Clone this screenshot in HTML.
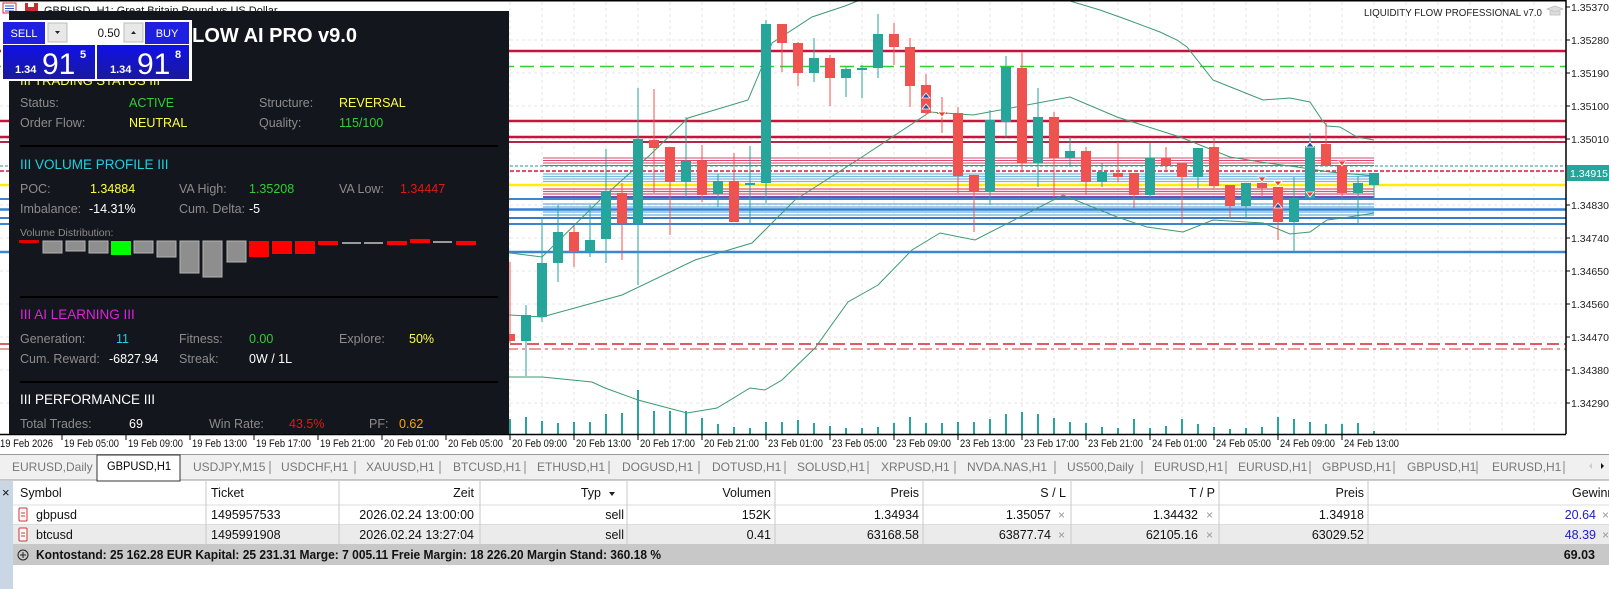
<!DOCTYPE html>
<html><head><meta charset="utf-8"><style>
html,body{margin:0;padding:0;background:#fff;}
svg{display:block;}
.t{font-family:"Liberation Sans",sans-serif;}
.n{font-family:"Liberation Sans Narrow","Liberation Sans",sans-serif;}
</style></head><body>
<svg width="1609" height="589" viewBox="0 0 1609 589" xmlns="http://www.w3.org/2000/svg">
<rect width="1609" height="589" fill="#fff"/>
<g stroke="#e6e6e6" stroke-width="1" stroke-dasharray="3,3">
<path d="M510 2V434M542 2V434M574 2V434M606 2V434M638 2V434M670 2V434M702 2V434M734 2V434M766 2V434M798 2V434M830 2V434M862 2V434M894 2V434M926 2V434M958 2V434M990 2V434M1022 2V434M1054 2V434M1086 2V434M1118 2V434M1150 2V434M1182 2V434M1214 2V434M1246 2V434M1278 2V434M1310 2V434M1342 2V434M1374 2V434M1406 2V434M1438 2V434M1470 2V434M1502 2V434M1534 2V434"/>
<path d="M0 40H1566M0 73H1566M0 106H1566M0 139H1566M0 172H1566M0 205H1566M0 238H1566M0 271H1566M0 304H1566M0 337H1566M0 370H1566M0 403H1566"/>
</g>
<g fill="none">
<path d="M0 51H1566" stroke="#c8143c" stroke-width="2.5"/>
<path d="M0 66.5H1566" stroke="#32cd32" stroke-width="1.5" stroke-dasharray="14,6"/>
<path d="M0 121H1566" stroke="#c8143c" stroke-width="2.5"/>
<path d="M0 137H1566" stroke="#c8143c" stroke-width="2.5"/>
<path d="M0 142H1566" stroke="#b02848" stroke-width="2"/>
<g stroke="#d84a6a" stroke-width="1"><path d="M543 158H1374M543 160.5H1374M543 163H1374M543 165.5H1374"/></g>
<path d="M0 166H1566" stroke="#2a9a8a" stroke-width="1" stroke-dasharray="3,2"/>
<path d="M0 171H1566" stroke="#d02040" stroke-width="1.5" stroke-dasharray="4,2"/>
<g stroke="#7ab8e0" stroke-width="1.2"><path d="M543 174H1374M543 176.5H1374M543 179H1374M543 181.5H1374"/></g>
<path d="M0 185H1566" stroke="#ffee00" stroke-width="2.5"/>
<g stroke="#e05070" stroke-width="1.2"><path d="M543 189H1374M543 191.5H1374M543 194H1374"/></g>
<path d="M543 197H1374" stroke="#7050b0" stroke-width="2"/>
<path d="M0 199H1566" stroke="#3a86d0" stroke-width="2"/>
<g stroke="#6aaee0" stroke-width="1.2"><path d="M543 204H1374M543 207H1374M543 212H1374M543 215H1374"/></g>
<path d="M0 209.5H1566" stroke="#2f80d8" stroke-width="2.5"/>
<path d="M0 218H1566" stroke="#3a7ac8" stroke-width="2"/>
<path d="M0 224H1566" stroke="#3a86d0" stroke-width="2"/>
<path d="M0 252H1566" stroke="#3a86d0" stroke-width="2.5"/>
<path d="M0 344H1566" stroke="#d02830" stroke-width="1.5" stroke-dasharray="12,5"/>
<path d="M0 349H1566" stroke="#d03838" stroke-width="1" stroke-dasharray="12,4,3,4"/>
</g>
<g fill="none" stroke="#3c9a70" stroke-width="1">
<polyline points="497,252 510,253 542,257 600,200 650,155 688,118 748,100 772,43 812,17 845,6 865,-2"/>
<polyline points="1060,-2 1100,10 1128,20 1160,32 1177,40 1187,47 1213,80 1233,88 1263,100 1290,98 1310,102 1322,120 1327,126 1340,127 1357,137 1374,140"/>
<polyline points="497,315 510,315 542,317 622,295 695,260 752,243 795,200 862,157 930,112 973,115 1070,97 1117,117 1180,137 1230,157 1267,163 1297,167 1330,172 1374,176"/>
<polyline points="497,377 510,377 542,377 592,382 605,388 638,400 687,413 717,408 750,388 765,390 782,380 815,348 848,302 878,285 912,250 940,233 975,240 1063,195 1117,217 1147,227 1183,232 1213,220 1263,223 1290,234 1310,232 1327,220 1343,218 1374,213"/>
</g>
<g stroke-width="1">
<g stroke="#ef5350"><path d="M510 262V343M574 225V267M622 183V260M654 89V193M670 147V235M702 145V202M734 153V222M782 24V72M798 42V86M830 55V106M894 23V65M910 38V107M926 74V115M942 97V133M958 107V193M974 175V232M1022 52V172M1054 112V197M1086 147V195M1118 142V182M1134 173V208M1166 147V170M1182 163V223M1214 137V188M1230 185V218M1262 177V197M1278 187V240M1326 123V166M1342 160V198"/></g>
<g stroke="#26a69a"><path d="M526 305V376M542 217V322M558 205V282M590 205V257M606 149V263M638 88V285M686 117V197M718 174V207M750 146V223M766 20V203M814 38V82M846 67V97M862 65V98M878 14V78M990 110V205M1006 56V137M1038 88V187M1070 137V167M1102 163V187M1150 143V197M1198 148V188M1246 183V217M1294 177V252M1310 133V198M1358 176V223M1374 173V198"/></g>
</g>
<g fill="#ef5350">
<rect x="505" y="334" width="10" height="7"/><rect x="569" y="232" width="10" height="20"/><rect x="617" y="193" width="10" height="30"/><rect x="649" y="140" width="10" height="8"/><rect x="665" y="147" width="10" height="35"/><rect x="697" y="161" width="10" height="34"/><rect x="729" y="181" width="10" height="41"/><rect x="777" y="24" width="10" height="19"/><rect x="793" y="43" width="10" height="30"/><rect x="825" y="58" width="10" height="20"/><rect x="889" y="34" width="10" height="13"/><rect x="905" y="47" width="10" height="39"/><rect x="921" y="85" width="10" height="28"/><rect x="937" y="112" width="10" height="2"/><rect x="953" y="113" width="10" height="63"/><rect x="969" y="175" width="10" height="17"/><rect x="1017" y="68" width="10" height="95"/><rect x="1049" y="117" width="10" height="41"/><rect x="1081" y="151" width="10" height="31"/><rect x="1113" y="173" width="10" height="4"/><rect x="1129" y="173" width="10" height="22"/><rect x="1161" y="158" width="10" height="7"/><rect x="1177" y="163" width="10" height="14"/><rect x="1209" y="147" width="10" height="39"/><rect x="1225" y="185" width="10" height="21"/><rect x="1257" y="183" width="10" height="5"/><rect x="1273" y="187" width="10" height="35"/><rect x="1321" y="144" width="10" height="22"/><rect x="1337" y="166" width="10" height="27"/>
</g>
<g fill="#26a69a">
<rect x="521" y="315" width="10" height="26"/><rect x="537" y="263" width="10" height="54"/><rect x="553" y="232" width="10" height="31"/><rect x="585" y="240" width="10" height="12"/><rect x="601" y="192" width="10" height="47"/><rect x="633" y="139" width="10" height="84"/><rect x="681" y="161" width="10" height="21"/><rect x="713" y="181" width="10" height="13"/><rect x="745" y="183" width="10" height="2"/><rect x="761" y="24" width="10" height="159"/><rect x="809" y="58" width="10" height="15"/><rect x="841" y="69" width="10" height="9"/><rect x="857" y="68" width="10" height="2"/><rect x="873" y="34" width="10" height="34"/><rect x="985" y="120" width="10" height="72"/><rect x="1001" y="67" width="10" height="55"/><rect x="1033" y="117" width="10" height="46"/><rect x="1065" y="151" width="10" height="7"/><rect x="1097" y="172" width="10" height="10"/><rect x="1145" y="158" width="10" height="37"/><rect x="1193" y="148" width="10" height="29"/><rect x="1241" y="183" width="10" height="23"/><rect x="1289" y="198" width="10" height="24"/><rect x="1305" y="146" width="10" height="52"/><rect x="1353" y="183" width="10" height="10"/><rect x="1369" y="173" width="10" height="12"/>
</g>
<g fill="#1f4f9f" stroke="#fff" stroke-width="0.8">
<path d="M926 93l4 5h-8z"/><path d="M926 104l4 5h-8z"/><path d="M1278 203l4 5h-8z"/><path d="M1310 142l4 5h-8z"/>
</g>
<g fill="#e8402a" stroke="#fff" stroke-width="0.8">
<path d="M942 117l4 -5h-8z"/><path d="M1262 182l4 -5h-8z"/><path d="M1278 186l4 -5h-8z"/><path d="M1310 197l4 -5h-8z"/><path d="M1342 166l4 -5h-8z"/>
</g>
<path stroke="#26a69a" stroke-width="2" d="M510 434V419M526 434V417M542 434V421M558 434V423M574 434V422M590 434V422M606 434V414M622 434V413M638 434V390M654 434V411M670 434V411M686 434V411M702 434V418M718 434V424M734 434V427M750 434V428M766 434V422M782 434V422M798 434V420M814 434V423M830 434V426M846 434V428M862 434V428M878 434V427M894 434V423M910 434V417M926 434V423M942 434V423M958 434V422M974 434V422M990 434V419M1006 434V414M1022 434V412M1038 434V414M1054 434V418M1070 434V422M1086 434V423M1102 434V427M1118 434V428M1134 434V419M1150 434V428M1166 434V426M1182 434V419M1198 434V424M1214 434V427M1230 434V429M1246 434V428M1262 434V427M1278 434V417M1294 434V419M1310 434V422M1326 434V424M1342 434V424M1358 434V423M1374 434V431"/>
<path d="M0 0.8H1566M1566 0V434M0 434.5H1566" stroke="#000" stroke-width="1.5" fill="none"/>
<g class="t" font-size="10.5" fill="#222">
<text x="1571" y="11">1.35370</text><text x="1571" y="44">1.35280</text><text x="1571" y="77">1.35190</text><text x="1571" y="110">1.35100</text><text x="1571" y="143">1.35010</text><text x="1571" y="209">1.34830</text><text x="1571" y="242">1.34740</text><text x="1571" y="275">1.34650</text><text x="1571" y="308">1.34560</text><text x="1571" y="341">1.34470</text><text x="1571" y="374">1.34380</text><text x="1571" y="407">1.34290</text>
</g>
<path stroke="#000" d="M1566 7H1570M1566 40H1570M1566 73H1570M1566 106H1570M1566 139H1570M1566 205H1570M1566 238H1570M1566 271H1570M1566 304H1570M1566 337H1570M1566 370H1570M1566 403H1570"/>
<rect x="1567" y="165" width="42" height="16" fill="#26a69a"/>
<text x="1570" y="177" class="t" font-size="10.5" fill="#fff">1.34915</text>
<text x="1364" y="16" class="t" font-size="10.5" fill="#222" textLength="178" lengthAdjust="spacingAndGlyphs">LIQUIDITY FLOW PROFESSIONAL v7.0</text>
<path d="M1547 9l8-3 8 3-8 3z M1550 11v4h10v-4" fill="#ddd" stroke="#bbb" stroke-width="0.8"/>
<path stroke="#000" d="M-2 434V440M62 434V440M126 434V440M190 434V440M254 434V440M318 434V440M382 434V440M446 434V440M510 434V440M574 434V440M638 434V440M702 434V440M766 434V440M830 434V440M894 434V440M958 434V440M1022 434V440M1086 434V440M1150 434V440M1214 434V440M1278 434V440M1342 434V440"/>
<g class="n" font-size="11" fill="#111">
<text x="0" y="447" textLength="53" lengthAdjust="spacingAndGlyphs">19 Feb 2026</text>
<text x="64" y="447" textLength="55" lengthAdjust="spacingAndGlyphs">19 Feb 05:00</text>
<text x="128" y="447" textLength="55" lengthAdjust="spacingAndGlyphs">19 Feb 09:00</text>
<text x="192" y="447" textLength="55" lengthAdjust="spacingAndGlyphs">19 Feb 13:00</text>
<text x="256" y="447" textLength="55" lengthAdjust="spacingAndGlyphs">19 Feb 17:00</text>
<text x="320" y="447" textLength="55" lengthAdjust="spacingAndGlyphs">19 Feb 21:00</text>
<text x="384" y="447" textLength="55" lengthAdjust="spacingAndGlyphs">20 Feb 01:00</text>
<text x="448" y="447" textLength="55" lengthAdjust="spacingAndGlyphs">20 Feb 05:00</text>
<text x="512" y="447" textLength="55" lengthAdjust="spacingAndGlyphs">20 Feb 09:00</text>
<text x="576" y="447" textLength="55" lengthAdjust="spacingAndGlyphs">20 Feb 13:00</text>
<text x="640" y="447" textLength="55" lengthAdjust="spacingAndGlyphs">20 Feb 17:00</text>
<text x="704" y="447" textLength="55" lengthAdjust="spacingAndGlyphs">20 Feb 21:00</text>
<text x="768" y="447" textLength="55" lengthAdjust="spacingAndGlyphs">23 Feb 01:00</text>
<text x="832" y="447" textLength="55" lengthAdjust="spacingAndGlyphs">23 Feb 05:00</text>
<text x="896" y="447" textLength="55" lengthAdjust="spacingAndGlyphs">23 Feb 09:00</text>
<text x="960" y="447" textLength="55" lengthAdjust="spacingAndGlyphs">23 Feb 13:00</text>
<text x="1024" y="447" textLength="55" lengthAdjust="spacingAndGlyphs">23 Feb 17:00</text>
<text x="1088" y="447" textLength="55" lengthAdjust="spacingAndGlyphs">23 Feb 21:00</text>
<text x="1152" y="447" textLength="55" lengthAdjust="spacingAndGlyphs">24 Feb 01:00</text>
<text x="1216" y="447" textLength="55" lengthAdjust="spacingAndGlyphs">24 Feb 05:00</text>
<text x="1280" y="447" textLength="55" lengthAdjust="spacingAndGlyphs">24 Feb 09:00</text>
<text x="1344" y="447" textLength="55" lengthAdjust="spacingAndGlyphs">24 Feb 13:00</text>
</g>
<rect x="3" y="3" width="13" height="10" fill="#fff" stroke="#d03030"/>
<path d="M5 6H14M5 8.5H14M5 11H14" stroke="#3050c0"/>
<rect x="25" y="3" width="13" height="11" fill="#c03030"/><rect x="28" y="3" width="6" height="4" fill="#fff"/>
<text x="44" y="14" class="t" font-size="11" fill="#111">GBPUSD, H1: Great Britain Pound vs US Dollar</text>
<rect x="9" y="11" width="500" height="423" fill="#14161e"/>
<text x="357" y="42" text-anchor="end" class="t" font-size="20" font-weight="bold" fill="#fff">LIQUIDITY FLOW AI PRO v9.0</text>
<text x="20" y="85" class="t" font-size="13" fill="#ffff40">III TRADING STATUS III</text>
<g class="t" font-size="12.5">
<text x="20" y="107" fill="#8c8c8c">Status:</text><text x="129" y="107" fill="#32cd32">ACTIVE</text>
<text x="259" y="107" fill="#8c8c8c">Structure:</text><text x="339" y="107" fill="#ffff40">REVERSAL</text>
<text x="20" y="127" fill="#8c8c8c">Order Flow:</text><text x="129" y="127" fill="#ffff40">NEUTRAL</text>
<text x="259" y="127" fill="#8c8c8c">Quality:</text><text x="339" y="127" fill="#32cd32">115/100</text>
<text x="20" y="169" fill="#20d0e0" font-size="13.5">III VOLUME PROFILE III</text>
<text x="20" y="193" fill="#8c8c8c">POC:</text><text x="90" y="193" fill="#ffff40">1.34884</text>
<text x="179" y="193" fill="#8c8c8c">VA High:</text><text x="249" y="193" fill="#32cd32">1.35208</text>
<text x="339" y="193" fill="#8c8c8c">VA Low:</text><text x="400" y="193" fill="#e01818">1.34447</text>
<text x="20" y="213" fill="#8c8c8c">Imbalance:</text><text x="89" y="213" fill="#fff">-14.31%</text>
<text x="179" y="213" fill="#8c8c8c">Cum. Delta:</text><text x="249" y="213" fill="#fff">-5</text>
<text x="20" y="236" fill="#8c8c8c" font-size="10.5">Volume Distribution:</text>
<text x="20" y="319" fill="#e020e0" font-size="13.5">III AI LEARNING III</text>
<text x="20" y="343" fill="#8c8c8c">Generation:</text><text x="116" y="343" fill="#20d0e0">11</text>
<text x="179" y="343" fill="#8c8c8c">Fitness:</text><text x="249" y="343" fill="#32cd32">0.00</text>
<text x="339" y="343" fill="#8c8c8c">Explore:</text><text x="409" y="343" fill="#ffff40">50%</text>
<text x="20" y="363" fill="#8c8c8c">Cum. Reward:</text><text x="109" y="363" fill="#fff">-6827.94</text>
<text x="179" y="363" fill="#8c8c8c">Streak:</text><text x="249" y="363" fill="#fff">0W / 1L</text>
<text x="20" y="404" fill="#fff" font-size="13.5">III PERFORMANCE III</text>
<text x="20" y="428" fill="#8c8c8c">Total Trades:</text><text x="129" y="428" fill="#fff">69</text>
<text x="209" y="428" fill="#8c8c8c">Win Rate:</text><text x="289" y="428" fill="#e01818">43.5%</text>
<text x="369" y="428" fill="#8c8c8c">PF:</text><text x="399" y="428" fill="#ffa500">0.62</text>
</g>
<path d="M20 146H498M20 297H498M20 382H498" stroke="#000" stroke-width="2"/>
<rect x="19" y="240" width="20" height="3" fill="#e00000"/>
<g fill="#8e8e8e" stroke="#b4b4b4" stroke-width="1">
<rect x="43" y="241" width="19" height="12"/><rect x="66" y="241" width="19" height="10"/><rect x="89" y="241" width="19" height="12"/>
<rect x="134" y="241" width="19" height="12"/><rect x="157" y="241" width="19" height="16"/><rect x="180" y="241" width="19" height="32"/><rect x="203" y="241" width="19" height="36"/><rect x="227" y="241" width="19" height="21"/>
</g>
<rect x="111" y="241" width="20" height="14" fill="#00ff00"/>
<g fill="#ff0000"><rect x="249" y="241" width="20" height="16"/><rect x="272" y="241" width="20" height="13"/><rect x="295" y="241" width="20" height="13"/>
<rect x="318" y="241" width="20" height="4"/><rect x="387" y="241" width="20" height="4"/><rect x="410" y="239" width="20" height="4"/><rect x="456" y="241" width="20" height="4"/></g>
<g fill="#9a9a9a"><rect x="342" y="242" width="19" height="2"/><rect x="364" y="242" width="19" height="2"/><rect x="433" y="241" width="19" height="2"/></g>
<rect x="1" y="20" width="191" height="61" fill="#fff"/>
<rect x="3" y="22" width="42" height="22" fill="#1f1fe0"/>
<text x="24" y="37" text-anchor="middle" class="t" font-size="11" fill="#fff">SELL</text>
<rect x="145" y="22" width="44" height="22" fill="#1f1fe0"/>
<text x="167" y="37" text-anchor="middle" class="t" font-size="11" fill="#fff">BUY</text>
<rect x="48" y="23" width="19" height="19" fill="#e8e8e8" stroke="#bbb"/><path d="M55 31h5l-2.5 3z" fill="#222"/>
<rect x="124" y="23" width="19" height="19" fill="#e8e8e8" stroke="#bbb"/><path d="M131 34h5l-2.5-3z" fill="#222"/>
<text x="120" y="37" text-anchor="end" class="t" font-size="11.5" fill="#111">0.50</text>
<defs><linearGradient id="bg" x1="0" y1="0" x2="0" y2="1"><stop offset="0" stop-color="#1010e8"/><stop offset="1" stop-color="#1a1a9c"/></linearGradient></defs>
<rect x="3" y="45" width="92" height="34" fill="url(#bg)"/>
<rect x="97" y="45" width="92" height="34" fill="url(#bg)"/>
<g class="t" fill="#fff">
<text x="15" y="73" font-size="11" font-weight="bold">1.34</text><text x="42" y="74" font-size="30">91</text><text x="80" y="58" font-size="11" font-weight="bold">5</text>
<text x="110" y="73" font-size="11" font-weight="bold">1.34</text><text x="137" y="74" font-size="30">91</text><text x="175" y="58" font-size="11" font-weight="bold">8</text>
</g>
<rect x="0" y="454" width="1609" height="26" fill="#f0f0f0"/>
<path d="M0 454.5H1609M0 480H1609" stroke="#9a9a9a" stroke-width="1"/>
<rect x="97" y="455" width="83" height="26" fill="#fff" stroke="#333" stroke-width="1"/>
<g class="n" font-size="12" fill="#777">
<text x="12" y="471">EURUSD,Daily</text>
<text x="107" y="470" fill="#000" textLength="64" lengthAdjust="spacingAndGlyphs">GBPUSD,H1</text>
<text x="193" y="471">USDJPY,M15</text><text x="281" y="471">USDCHF,H1</text><text x="366" y="471">XAUUSD,H1</text><text x="453" y="471">BTCUSD,H1</text><text x="537" y="471">ETHUSD,H1</text><text x="622" y="471">DOGUSD,H1</text><text x="712" y="471">DOTUSD,H1</text><text x="797" y="471">SOLUSD,H1</text><text x="881" y="471">XRPUSD,H1</text><text x="967" y="471">NVDA.NAS,H1</text><text x="1067" y="471">US500,Daily</text><text x="1154" y="471">EURUSD,H1</text><text x="1238" y="471">EURUSD,H1</text><text x="1322" y="471">GBPUSD,H1</text><text x="1407" y="471">GBPUSD,H1</text><text x="1492" y="471">EURUSD,H1</text>
</g>
<path stroke="#888" d="M270 461V474M355 461V474M440 461V474M525 461V474M609 461V474M699 461V474M785 461V474M868 461V474M955 461V474M1055 461V474M1142 461V474M1226 461V474M1310 461V474M1394 461V474M1477 461V474M1564 461V474"/>
<path d="M1592 463l-3 3 3 3z" fill="#ccc"/><path d="M1601 463l3 3-3 3z" fill="#111"/>
<rect x="0" y="481" width="13" height="108" fill="#c9d6e3"/>
<text x="2" y="497" class="t" font-size="13" fill="#111">×</text>
<rect x="13" y="524" width="1596" height="20" fill="#ebebeb"/>
<rect x="13" y="544" width="1596" height="21" fill="#c8c8c8"/>
<path d="M13 505H1609M13 524.5H1609" stroke="#dcdcdc"/>
<path stroke="#c8c8c8" d="M206 481V544M339 481V544M480 481V544M627 481V544M775 481V544M923 481V544M1071 481V544M1219 481V544M1368 481V544"/>
<g class="n" font-size="12.5" fill="#111">
<text x="20" y="497">Symbol</text><text x="211" y="497">Ticket</text>
<text x="474" y="497" text-anchor="end">Zeit</text><text x="601" y="497" text-anchor="end">Typ</text>
<text x="771" y="497" text-anchor="end">Volumen</text><text x="919" y="497" text-anchor="end">Preis</text>
<text x="1066" y="497" text-anchor="end">S / L</text><text x="1215" y="497" text-anchor="end">T / P</text>
<text x="1364" y="497" text-anchor="end">Preis</text><text x="1572" y="497">Gewinn</text>
<text x="36" y="519">gbpusd</text><text x="211" y="519">1495957533</text>
<text x="474" y="519" text-anchor="end">2026.02.24 13:00:00</text><text x="624" y="519" text-anchor="end">sell</text>
<text x="771" y="519" text-anchor="end">152K</text><text x="919" y="519" text-anchor="end">1.34934</text>
<text x="1051" y="519" text-anchor="end">1.35057</text><text x="1198" y="519" text-anchor="end">1.34432</text>
<text x="1364" y="519" text-anchor="end">1.34918</text><text x="1596" y="519" text-anchor="end" fill="#2020c0">20.64</text>
<text x="36" y="539">btcusd</text><text x="211" y="539">1495991908</text>
<text x="474" y="539" text-anchor="end">2026.02.24 13:27:04</text><text x="624" y="539" text-anchor="end">sell</text>
<text x="771" y="539" text-anchor="end">0.41</text><text x="919" y="539" text-anchor="end">63168.58</text>
<text x="1051" y="539" text-anchor="end">63877.74</text><text x="1198" y="539" text-anchor="end">62105.16</text>
<text x="1364" y="539" text-anchor="end">63029.52</text><text x="1596" y="539" text-anchor="end" fill="#2020c0">48.39</text>
<text x="36" y="559" font-weight="bold" textLength="625" lengthAdjust="spacingAndGlyphs">Kontostand: 25 162.28 EUR  Kapital: 25 231.31  Marge: 7 005.11  Freie Margin: 18 226.20  Margin Stand: 360.18 %</text>
<text x="1595" y="559" text-anchor="end" font-weight="bold">69.03</text>
</g>
<path d="M609 492h6l-3 4z" fill="#222"/>
<g class="t" font-size="12" fill="#999"><text x="1058" y="519">×</text><text x="1206" y="519">×</text><text x="1602" y="519">×</text><text x="1058" y="539">×</text><text x="1206" y="539">×</text><text x="1602" y="539">×</text></g>
<circle cx="23" cy="555" r="5" fill="none" stroke="#222"/><path d="M20 555h6M23 552v6" stroke="#222"/>
<g fill="#fff" stroke="#d03030" stroke-width="1"><rect x="19" y="508" width="8" height="13" rx="1"/><rect x="19" y="528" width="8" height="13" rx="1"/></g>
<path d="M21 513h4M21 516h4M21 533h4M21 536h4" stroke="#d03030"/>
</svg>
</body></html>
